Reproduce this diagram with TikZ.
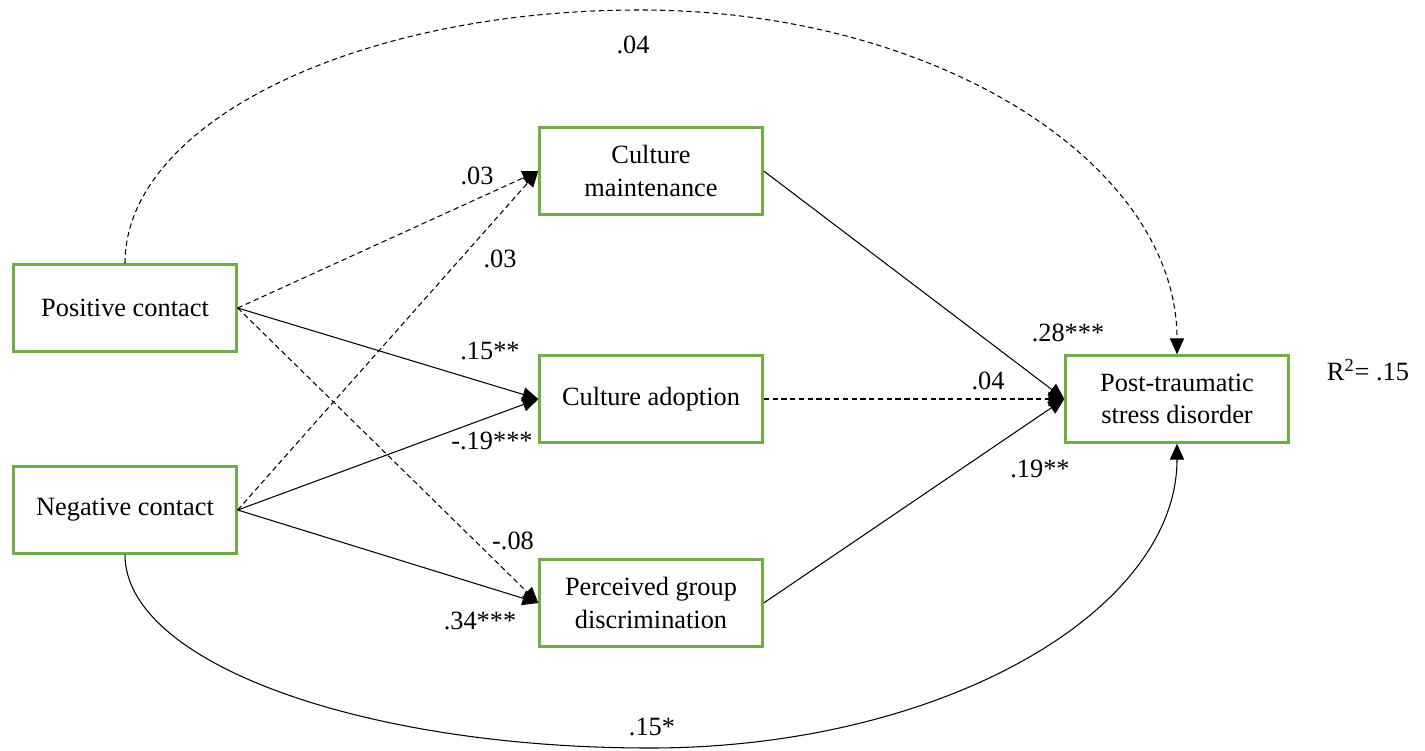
\documentclass[tikz,border=0pt]{standalone}
\usepackage{fontspec}
\setmainfont{Liberation Serif}
\usetikzlibrary{arrows.meta}
\definecolor{boxgreen}{HTML}{70AD47}
\begin{document}
\begin{tikzpicture}[x=0.02cm,y=-0.02cm,
  varbox/.style={draw=boxgreen,line width=1.4pt,minimum width=4.46cm,minimum height=1.74cm,align=center,inner sep=0pt,font=\fontsize{15}{18.3}\selectfont},
  lbl/.style={font=\fontsize{15}{18}\selectfont,inner sep=0pt},
  path/.style={line width=0.6pt,-{Triangle[length=9pt,width=8pt]}},
  nsig/.style={path,dash pattern=on 3pt off 2pt}]
\useasboundingbox (0,0) rectangle (1425,750);
\node[varbox] (pos) at (125,308) {Positive contact};
\node[varbox] (neg) at (125,510) {Negative contact};
\node[varbox] (cm) at (651,171) {Culture\\maintenance};
\node[varbox] (ca) at (651,399) {Culture adoption};
\node[varbox] (pgd) at (651,603) {Perceived group\\discrimination};
\node[varbox] (ptsd) at (1177,399) {Post-traumatic\\stress disorder};
\node[lbl] (r2) at (1368,370) {R\textsuperscript{2}= .15};

\draw[nsig] (pos.east) -- (cm.west);
\draw[path] (pos.east) -- (ca.west);
\draw[nsig] (pos.east) -- (pgd.west);
\draw[nsig] (neg.east) -- (cm.west);
\draw[path] (neg.east) -- (ca.west);
\draw[path] (neg.east) -- (pgd.west);
\draw[path] (cm.east) -- (ptsd.west);
\draw[nsig] (ca.east) -- (ptsd.west);
\draw[path] (pgd.east) -- (ptsd.west);

\coordinate (topc) at (640,10);
\coordinate (botc) at (650,748);
\draw[nsig] (pos.north) .. controls (125,123) and (356,10) .. (topc) .. controls (937,10) and (1177,164) .. (ptsd.north);
\draw[path] (neg.south) .. controls (125,662) and (360,748) .. (botc) .. controls (941,748) and (1177,612) .. (ptsd.south);

\node[lbl] (l1) at (633,45) {.04};
\node[lbl] (l2) at (477,176) {.03};
\node[lbl] (l3) at (500,259) {.03};
\node[lbl] (l4) at (490,351) {.15**};
\node[lbl] (l5) at (492,441) {-.19***};
\node[lbl] (l6) at (513,541) {-.08};
\node[lbl] (l7) at (480,621) {.34***};
\node[lbl] (l8) at (1068,333) {.28***};
\node[lbl] (l9) at (988,381) {.04};
\node[lbl] (l10) at (1040,469) {.19**};
\node[lbl] (l11) at (652,727) {.15*};
\end{tikzpicture}
\end{document}
